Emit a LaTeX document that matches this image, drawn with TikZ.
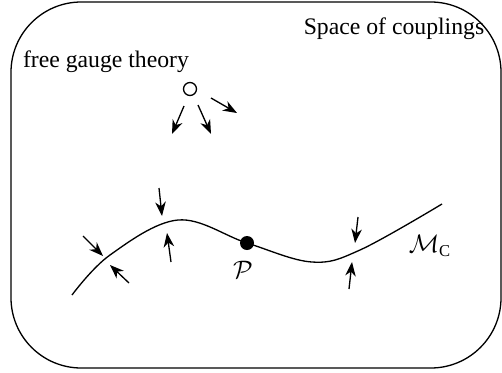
\documentclass[tikz,border=0pt]{standalone}
\usepackage{fontspec}
\setmainfont{Liberation Serif}
\usetikzlibrary{arrows.meta}
\begin{document}
\begin{tikzpicture}[>={Stealth[length=8pt, width=6pt, inset=2.5pt]}, x=0.02cm, y=-0.02cm, line width=0.75pt,
            every node/.style={font=\fontsize{13.5}{16}\selectfont}]
            \useasboundingbox (0,0) rectangle (502,372);
            \draw[rounded corners=40] (11,2) rectangle (501,368);
            \node at (394,29) {Space of couplings};
            \node at (106,62) {free gauge theory};
            % free theory and its flows
            \node[circle, draw, inner sep=0pt, minimum size=0.26cm] (free) at (190,89) {};
            \draw[->] (184,106) -- (172,134);
            \draw[->] (198,105) -- (211,134);
            \draw[->] (211,98) -- (237,113);
            % conformal manifold
            \draw plot[smooth, tension=0.6] coordinates {(72,295) (110,255) (178,220) (247,243) (312,262) (360,250) (442,204)};
            \fill (247,243) circle (7);
            \node at (243,270) {$\mathcal{P}$};
            \node at (430,246) {$\mathcal{M}_{\rm C}$};
            % flows onto the manifold
            \draw[->] (83,236) -- (103,256);
            \draw[->] (129,283) -- (110,265);
            \draw[->] (159,188) -- (162,216);
            \draw[->] (171,262) -- (167,233);
            \draw[->] (358,217) -- (355,243);
            \draw[->] (349,289) -- (352,262);
        \end{tikzpicture}
\end{document}
